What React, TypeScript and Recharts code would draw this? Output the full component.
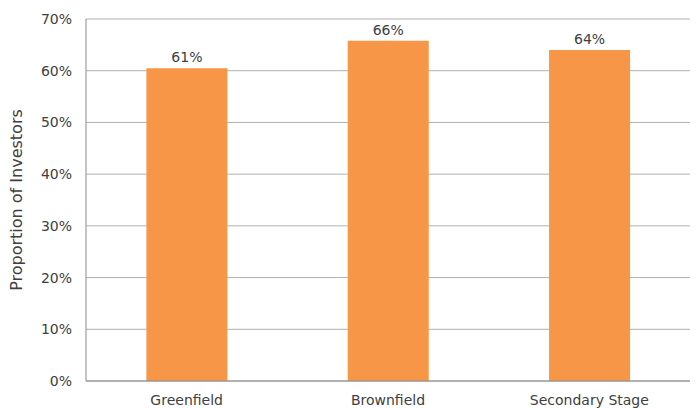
import { BarChart, Bar, XAxis, YAxis, CartesianGrid, LabelList, Label } from 'recharts';

const categories = ['Greenfield', 'Brownfield', 'Secondary Stage'];
const proportions = [60.5, 65.8, 64.0];
const yTicks = [0, 10, 20, 30, 40, 50, 60, 70];
const boundaryTicks = [0, 1, 2, 3];

const FONT = '"DejaVu Sans", sans-serif';
const TEXT = '#404040';

const data = categories.map((name, i) => ({ name, value: proportions[i], pos: i + 0.5 }));

export default function App() {
  return (
    <div style={{ position: 'absolute', left: 0, top: 0, background: '#fff', fontFamily: FONT }}>
      <BarChart
        width={699}
        height={408}
        data={data}
        margin={{ top: 19, right: 9, bottom: 0, left: 0 }}
        barCategoryGap="30%"
      >
        <CartesianGrid vertical={false} stroke="#b0b0b0" />
        {/* boundary tick marks between categories */}
        <XAxis
          xAxisId="ticks"
          type="number"
          dataKey="pos"
          domain={[0, 3]}
          ticks={boundaryTicks}
          height={0}
          tickSize={4}
          axisLine={false}
          tick={false}
          tickLine={{ stroke: '#8a8a8a' }}
        />
        <XAxis
          dataKey="name"
          height={27}
          axisLine={{ stroke: '#8a8a8a' }}
          tickLine={false}
          tickMargin={8}
          tick={{ fill: TEXT, fontSize: 14, fontFamily: FONT }}
        />
        <YAxis
          domain={[0, 70]}
          ticks={yTicks}
          width={86}
          axisLine={{ stroke: '#8a8a8a' }}
          tickLine={false}
          tickSize={6}
          tickMargin={8}
          tickFormatter={(v: number) => `${v}%`}
          tick={{ fill: TEXT, fontSize: 14, fontFamily: FONT }}
        >
          <Label
            value="Proportion of Investors"
            angle={-90}
            position="insideLeft"
            offset={16}
            style={{ textAnchor: 'middle', fill: TEXT, fontSize: 16, fontFamily: FONT }}
          />
        </YAxis>
        <Bar dataKey="value" fill="#F79646" isAnimationActive={false}>
          <LabelList
            dataKey="value"
            position="top"
            offset={6}
            formatter={(v: any) => `${Math.round(Number(v))}%`}
            style={{ fill: TEXT, fontSize: 14, fontFamily: FONT }}
          />
        </Bar>
      </BarChart>
    </div>
  );
}
